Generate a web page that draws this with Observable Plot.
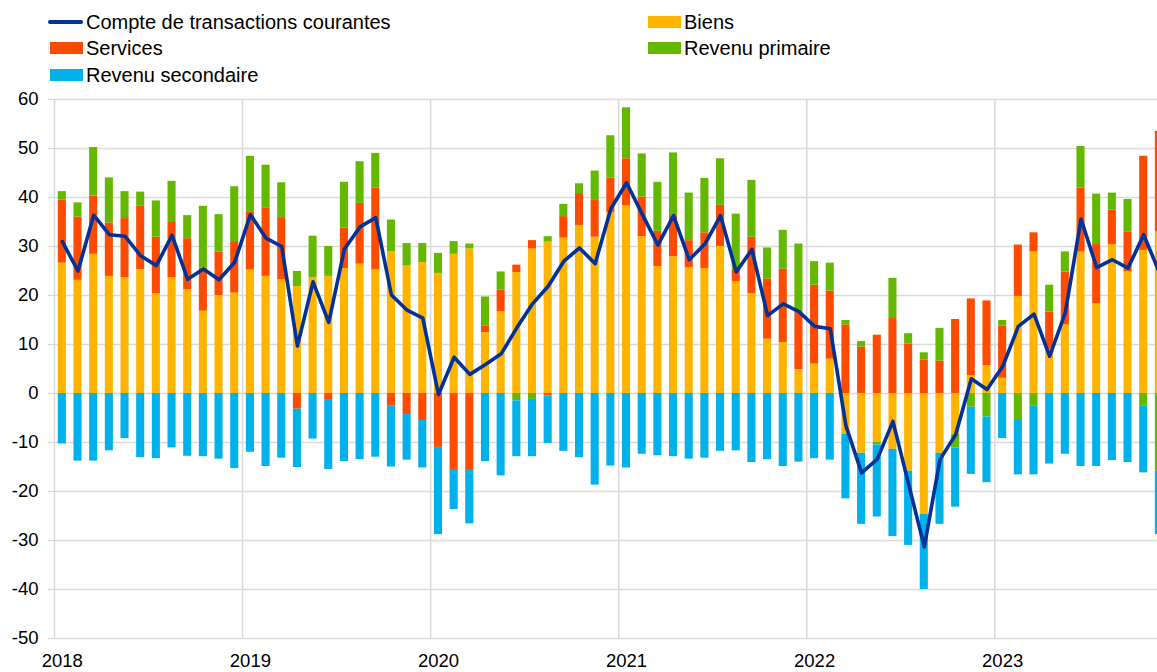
<!DOCTYPE html>
<html>
<head>
<meta charset="utf-8">
<script src="https://cdn.jsdelivr.net/npm/d3@7"></script>
<script src="https://cdn.jsdelivr.net/npm/@observablehq/plot@0.6"></script>
<style>
  body { margin: 0; background: #fff; overflow: hidden; font-family: Arial, "Liberation Sans", sans-serif; }
  #legend { position: absolute; left: 0; top: 0; width: 1157px; height: 89px; }
  .item { position: absolute; height: 26px; display: flex; align-items: center; font-size: 20px; color: #000; white-space: nowrap; }
  .sw { width: 33px; height: 12px; margin-right: 3px; flex: none; }
  .ln { width: 35px; height: 4px; margin-right: 3px; flex: none; border-radius: 2px; }
  #chart { position: absolute; left: 0; top: 89px; }
</style>
</head>
<body>
<div id="legend"></div>
<div id="chart"></div>
<script>
// Months: Jan 2018 .. Nov 2023
const months = [
  "2018-01","2018-02","2018-03","2018-04","2018-05","2018-06","2018-07","2018-08","2018-09","2018-10","2018-11","2018-12",
  "2019-01","2019-02","2019-03","2019-04","2019-05","2019-06","2019-07","2019-08","2019-09","2019-10","2019-11","2019-12",
  "2020-01","2020-02","2020-03","2020-04","2020-05","2020-06","2020-07","2020-08","2020-09","2020-10","2020-11","2020-12",
  "2021-01","2021-02","2021-03","2021-04","2021-05","2021-06","2021-07","2021-08","2021-09","2021-10","2021-11","2021-12",
  "2022-01","2022-02","2022-03","2022-04","2022-05","2022-06","2022-07","2022-08","2022-09","2022-10","2022-11","2022-12",
  "2023-01","2023-02","2023-03","2023-04","2023-05","2023-06","2023-07","2023-08","2023-09","2023-10","2023-11"
];
const years = ["2018","2019","2020","2021","2022","2023"];
const yTicks = [-50,-40,-30,-20,-10,0,10,20,30,40,50,60];

const biens = [
  26.6,23.1,28.4,23.9,23.6,25.3,20.4,23.6,21.2,16.8,20.0,20.5,
  25.2,23.9,23.2,21.8,23.6,23.9,25.5,26.4,25.3,28.9,26.0,26.7,
  24.5,28.4,29.5,12.4,16.7,24.7,29.5,30.9,31.7,34.3,31.9,36.9,
  38.3,32.0,25.9,27.9,25.7,25.5,30.0,22.8,20.4,11.1,10.4,4.9,
  6.0,7.0,-8.3,-12.2,-10.0,-11.4,-15.9,-24.7,-12.2,-8.3,3.6,5.7,
  3.1,19.8,28.9,9.0,14.0,28.9,18.3,30.4,24.9,29.2,33.0
];
const services = [
  12.9,12.9,11.9,10.9,12.1,12.9,11.5,11.3,10.4,8.8,8.9,10.5,
  11.9,14.0,12.7,-3.2,0.0,-1.4,8.3,12.4,16.6,-2.6,-4.3,-5.5,
  -11.0,-15.5,-15.7,1.3,4.4,1.5,1.7,-0.5,4.4,6.5,7.5,7.1,
  9.6,8.1,7.2,8.4,5.5,7.3,8.4,2.5,11.5,12.3,15.0,11.7,
  16.1,13.9,14.0,9.5,11.9,15.3,10.1,6.8,6.6,15.1,15.7,13.2,
  10.7,10.5,3.9,7.6,10.8,13.0,12.1,7.0,8.0,19.2,20.5
];
const revenuPrimaire = [
  1.7,2.9,9.9,9.2,5.5,2.9,7.4,8.4,4.7,12.6,7.6,11.2,
  11.3,8.7,7.1,3.1,8.5,6.1,9.3,8.5,7.1,6.5,4.6,3.9,
  4.1,2.6,1.0,6.0,3.7,-1.5,-1.2,1.1,2.5,2.0,6.0,8.6,
  10.4,8.8,10.0,12.8,9.7,11.1,9.5,11.3,11.6,6.3,7.9,13.9,
  4.8,5.7,0.9,1.1,-0.5,8.2,2.1,1.5,6.7,-2.8,-2.8,-4.8,
  1.1,-5.3,-2.5,5.5,4.1,8.5,10.3,3.5,6.7,-2.5,-15.9
];
const revenuSecondaire = [
  -10.3,-13.8,-13.8,-11.7,-9.2,-13.1,-13.3,-11.1,-12.8,-12.9,-13.4,-15.3,
  -12.0,-14.9,-13.2,-11.9,-9.3,-14.1,-13.9,-13.5,-13.0,-12.4,-9.3,-9.7,
  -17.8,-8.2,-10.9,-13.9,-16.8,-11.4,-11.7,-9.7,-11.8,-13.1,-18.7,-14.8,
  -15.2,-12.4,-12.7,-12.9,-13.4,-13.2,-11.8,-11.7,-14.1,-13.5,-14.9,-14.0,
  -13.3,-13.6,-13.2,-14.5,-14.7,-17.8,-15.1,-15.3,-14.5,-12.1,-13.7,-13.4,
  -9.2,-11.3,-14.1,-14.4,-12.4,-14.9,-14.9,-13.7,-14.1,-13.7,-12.9
];
const compteCourant = [
  31.0,25.0,36.4,32.4,32.1,28.1,26.1,32.3,23.3,25.4,23.2,26.8,
  36.5,31.7,30.0,9.7,22.8,14.5,29.5,34.0,35.9,20.1,17.0,15.4,
  -0.2,7.4,3.9,5.9,8.1,13.4,18.3,21.9,27.0,29.7,26.5,37.7,
  43.0,36.6,30.3,36.3,27.3,30.5,36.3,24.8,29.4,15.9,18.3,16.7,
  13.7,13.2,-6.6,-16.2,-13.4,-5.7,-18.5,-31.3,-13.5,-8.4,3.0,0.8,
  5.5,13.7,16.2,7.6,16.5,35.6,25.7,27.3,25.6,32.4,24.7
];

const seriesNames = ["Biens","Services","Revenu primaire","Revenu secondaire"];
const seriesColors = ["#FFB400","#FF4B00","#65B800","#00B1EA"];
const lineName = "Compte de transactions courantes";
const lineColor = "#003299";

// Build long table (stack order = Biens, Services, Revenu primaire, Revenu secondaire)
const seriesValues = [biens, services, revenuPrimaire, revenuSecondaire];
const rows = [];
months.forEach((m, i) => {
  seriesNames.forEach((s, k) => {
    rows.push({month: m, x1: i, x2: i + 1, series: s, value: seriesValues[k][i]});
  });
});
const lineData = months.map((m, i) => ({month: m, x: i + 0.5, value: compteCourant[i]}));

// Legend (HTML)
const legend = document.getElementById("legend");
const legendItems = [
  {name: lineName, type: "line", color: lineColor, left: 48, top: 9},
  {name: seriesNames[0], type: "rect", color: seriesColors[0], left: 648, top: 9},
  {name: seriesNames[1], type: "rect", color: seriesColors[1], left: 50, top: 35},
  {name: seriesNames[2], type: "rect", color: seriesColors[2], left: 648, top: 35},
  {name: seriesNames[3], type: "rect", color: seriesColors[3], left: 50, top: 62}
];
legendItems.forEach(it => {
  const d = document.createElement("div");
  d.className = "item";
  d.style.left = it.left + "px";
  d.style.top = it.top + "px";
  const sw = document.createElement("span");
  sw.className = it.type === "line" ? "ln" : "sw";
  sw.style.background = it.color;
  if (it.type === "rect") sw.style.width = (it.left === 50 ? 33 : 33) + "px";
  const t = document.createElement("span");
  t.textContent = it.name;
  d.appendChild(sw);
  d.appendChild(t);
  legend.appendChild(d);
});

const gridColor = "#dadada";
const yearStarts = years.map((y, k) => k * 12);

const chart = Plot.plot({
  width: 1157,
  height: 583,
  marginLeft: 54,
  marginRight: 0,
  marginTop: 10,
  marginBottom: 34,
  style: {fontFamily: "Arial, 'Liberation Sans', sans-serif", fontSize: "18.5px", color: "#000", background: "#fff"},
  x: {type: "linear", domain: [0, 70.38]},
  y: {domain: [-50, 60]},
  color: {domain: seriesNames, range: seriesColors},
  marks: [
    Plot.gridY(yTicks, {stroke: gridColor, strokeOpacity: 1, strokeWidth: 1.3}),
    Plot.gridX(yearStarts, {stroke: gridColor, strokeOpacity: 1, strokeWidth: 1.5}),
    Plot.axisY(yTicks, {tickSize: 6, tickPadding: 10, stroke: gridColor, strokeWidth: 1.3, label: null, tickFormat: d => String(d)}),
    Plot.axisX(yearStarts.map(v => v + 0.5), {tickSize: 0, tickPadding: 15, label: null, tickFormat: d => years[Math.round((d - 0.5) / 12)]}),
    Plot.rectY(rows, Plot.stackY({x1: "x1", x2: "x2", y: "value", fill: "series", insetLeft: 3.8, insetRight: 3.8, clip: true})),
    Plot.lineY(lineData, {x: "x", y: "value", stroke: lineColor, strokeWidth: 3.6, strokeLinejoin: "round", clip: true})
  ]
});
document.getElementById("chart").appendChild(chart);
</script>
</body>
</html>
